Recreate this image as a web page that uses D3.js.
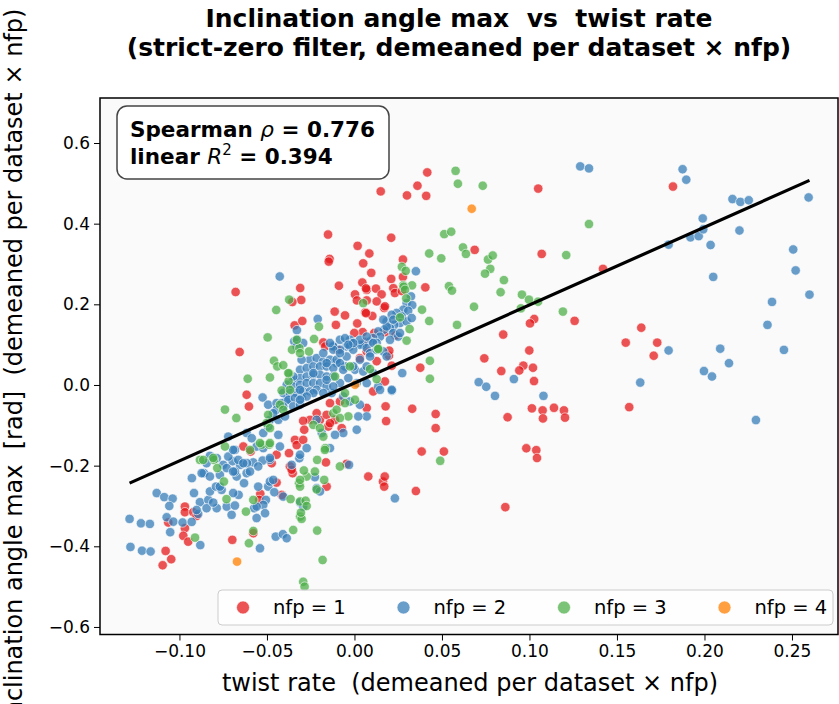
<!DOCTYPE html>
<html>
<head>
<meta charset="utf-8">
<script src="https://cdn.jsdelivr.net/npm/d3@7"></script>
<style>
  body { margin: 0; background: #fff; }
  text { font-family: "DejaVu Sans", sans-serif; white-space: pre; }
</style>
</head>
<body>
<svg id="chart"></svg>
<script>
// points per nfp group (x = twist rate, y = inclination angle max)
var nfp1X = [0.0416,0.036,0.030,0.041,0.015,0.105,0.182,0.021,0.0687,0.107,0.0277,0.021,0.0277,0.0405,0.0222,0.142,
  0.1258,0.1639,0.155,0.173,0.171,0.1027,0.1003,0.085,0.0999,0.0742,0.0965,0.0942,0.102,0.1026,0.0839,0.0376,0.157,0.033,0.0464,0.0464,0.0875,0.1014,0.1075,0.1077,0.114,0.1197,0.1203,0.0384,0.0511,0.0982,0.1039,0.1043,0.0178,0.0181,0.0174,0.0197,0.0213,0.017,
  0.0163,0.0173,0.017,0.0351,0.0862,
  -0.0151,0.0018,0.0085,0.005,0.0096,-0.0142,-0.0147,-0.031,-0.0089,0.0045,0.007,0.0123,-0.0679,
  -0.0304,-0.0355,-0.0342,-0.0298,-0.0113,-0.0106,-0.0178,
  0.0066,0.0155,0.007,0.0127,0.0003,0.0014,0.0231,0.0102,0.0062,-0.0054,0.0016,0.0047,-0.0001,0.0113,0.0062,0.0271,
  -0.0656,-0.0616,-0.0603,0.0066,0.0174,-0.0167,0.007,0.0176,0.0127,0.0235,0.0199,
  -0.0969,-0.0969,-0.0921,-0.0902,-0.1064,-0.0969,-0.0978,-0.095,-0.1079,-0.1047,-0.1096,-0.0698,-0.0578,-0.0445,-0.0374,-0.0473,-0.0416,-0.0538,-0.0544,-0.0445,-0.0359,-0.0353,-0.0045,0.0079,
  -0.0635,-0.0593,-0.034,-0.033,-0.0293,-0.0254,-0.0293,-0.0287,-0.0197,-0.0159,-0.015,-0.0163,-0.0369,-0.0359,-0.0159,-0.0216,-0.014,-0.0096,
  0.0031,0.0107,0.007,-0.0083,-0.0073,-0.0111,-0.014];
var nfp1Y = [0.527,0.494,0.470,0.469,0.480,0.487,0.492,0.365,0.335,0.325,0.311,0.263,0.268,0.242,0.240,0.288,
  0.159,0.142,0.105,0.105,0.0725,0.1636,0.1527,0.125,0.0856,0.066,0.048,0.036,0.0427,0.0097,0.0345,0.0427,-0.055,-0.059,-0.072,-0.107,-0.080,-0.058,-0.063,-0.083,-0.0566,-0.063,-0.081,-0.165,-0.165,-0.157,-0.1616,-0.181,-0.053,-0.0896,0.0087,0.0725,0.0477,0.191,
  -0.2395,-0.227,-0.252,-0.263,-0.303,
  0.373,0.345,0.326,0.3016,0.278,0.3125,0.306,0.2405,0.246,0.254,0.236,0.239,0.2306,
  0.2107,0.2058,0.1477,0.1586,0.182,0.149,0.1055,
  0.2395,0.2246,0.2097,0.2072,0.2246,0.2097,0.228,0.171,0.18,0.1725,0.1526,0.131,0.1288,0.1288,0.1065,0.233,
  0.0817,-0.0243,-0.0534,0.178,0.195,0.0956,0.083,0.131,0.059,0.123,0.085,
  -0.3015,-0.3155,-0.3155,-0.3247,-0.341,-0.355,-0.374,-0.3885,-0.4115,-0.432,-0.447,-0.384,-0.3676,-0.173,-0.169,-0.194,-0.2725,-0.27,-0.285,-0.242,-0.206,-0.2187,-0.1956,-0.227,
  -0.1526,-0.165,-0.136,-0.149,-0.136,-0.0864,-0.089,-0.111,-0.0864,-0.074,-0.103,-0.192,-0.202,-0.21,-0.252,-0.07,-0.045,0.0874,
  0.0667,-0.016,-0.057,-0.041,-0.107,-0.0864,-0.0946];

var nfp2X = [0.129,0.134,0.1875,0.1896,0.216,0.2205,0.2253,0.2595,0.199,0.220,0.192,0.1967,0.1993,0.1795,0.2035,0.2507,0.2521,0.205,0.260,0.0351,
  0.2386,0.236,0.2454,0.209,0.214,0.1997,0.2043,0.1795,0.1633,0.2294,0.071,0.0753,0.0803,0.0911,0.108,0.0273,0.0214,
  0.0231,-0.0427,-0.021,-0.0329,-0.0344,-0.0327,-0.0125,
  0.0323,0.0298,0.033,0.0279,0.0307,0.0241,0.027,0.0213,0.026,0.0227,0.0184,0.0203,0.0169,0.0136,0.0146,0.0107,0.0089,0.005,-0.0026,-0.0007,-0.0045,-0.0121,0.0222,0.025,0.0298,0.0327,
  -0.0525,
  -0.1285,-0.122,-0.1169,-0.128,-0.1214,-0.1165,-0.113,-0.1087,-0.1039,-0.1058,-0.1073,-0.1035,-0.0982,-0.1053,
  -0.0929,-0.086,-0.0917,-0.0883,-0.0835,-0.0826,-0.0791,-0.0759,-0.0787,-0.0845,-0.0893,-0.0902,-0.073,-0.0683,-0.0702,-0.0662,-0.0631,-0.0673,-0.0616,-0.0578,-0.0696,-0.0654,-0.075,-0.0721,-0.0683,-0.0664,-0.0614,-0.0683,-0.0769,-0.0826,-0.0845,-0.0787,
  -0.0573,-0.0559,-0.054,-0.0881,-0.093,-0.0493,-0.0483,-0.0458,-0.0506,-0.0521,-0.045,-0.0409,-0.0387,-0.0311,-0.0315,-0.0311,-0.0273,-0.0359,-0.0464,-0.0216,-0.0197,-0.0483,-0.0525,-0.0226,
  -0.0873,-0.0826,-0.073,-0.0693,-0.0721,-0.0616,-0.0587,-0.0559,-0.0521,-0.0493,-0.0483,-0.0435,-0.0426,-0.0521,-0.0483,-0.055,-0.0597,-0.0693,-0.0635,-0.0769,-0.0807,-0.0693,-0.055,-0.0407,-0.0293,-0.0559,-0.0511,-0.0493,-0.0445,-0.0387,
  -0.0083,-0.0026,0.0031,0.007,0.0127,0.0165,0.0184,0.0089,-0.0102,-0.0054,0.0003,0.005,0.0107,-0.0083,-0.0035,0.0013,0.007,0.0136,0.0213,-0.013,-0.0064,-0.0026,0.0031,0.007,0.0013,-0.0064,-0.0111,-0.014,-0.0031,0.0146,
  -0.0254,-0.0216,-0.0178,-0.014,-0.0102,-0.0311,-0.0273,-0.0235,-0.0197,-0.0159,-0.0121,-0.035,-0.0311,-0.0273,-0.0235,-0.0197,-0.0159,-0.0121,-0.0387,-0.035,-0.0311,-0.0273,-0.0235,-0.0197,-0.0159,-0.0121,-0.0407,-0.0369,-0.033,-0.0293,-0.0254,-0.0216,-0.0178,-0.0416,-0.0378,-0.034,-0.0302,-0.0445,-0.0407,-0.035,-0.0311,-0.0435,-0.0397,-0.0121,-0.014,-0.0293,
  -0.0311,-0.0235,-0.0159,-0.0083,-0.0045,-0.0007,0.0031,0.007,0.0107,0.0184,0.0222,0.0165,0.0203,0.026,0.0031,0.007,-0.0007,-0.0064,-0.0159,-0.0235,-0.0273,-0.035,-0.0178,-0.0083,-0.0007,0.0089,0.0127,-0.0302,-0.033,-0.0083,-0.0054,-0.0035,-0.0464,-0.0311,0.0022,-0.0216,-0.0187];
var nfp2Y = [0.542,0.537,0.535,0.509,0.461,0.454,0.458,0.465,0.413,0.383,0.366,0.369,0.386,0.348,0.347,0.336,0.284,0.268,0.224,0.282,
  0.206,0.149,0.087,0.090,0.054,0.0345,0.021,0.0856,0.006,-0.087,0.007,-0.0045,-0.027,0.0146,-0.027,0.0295,-0.0144,
  -0.281,0.269,0.1636,0.136,0.108,0.112,0.0973,
  0.2197,0.203,0.198,0.1866,0.184,0.1785,0.17,0.174,0.1536,0.149,0.1576,0.141,0.137,0.1328,0.120,0.1164,0.108,0.0998,0.1122,0.104,0.0956,0.0956,0.1288,0.120,0.1576,0.166,
  -0.031,
  -0.332,-0.343,-0.3445,-0.4016,-0.411,-0.413,-0.268,-0.278,-0.2817,-0.30,-0.328,-0.339,-0.341,-0.365,
  -0.231,-0.2187,-0.268,-0.2906,-0.285,-0.264,-0.252,-0.26,-0.3055,-0.3055,-0.3197,-0.31,-0.3015,-0.299,-0.322,-0.2725,-0.2435,-0.227,-0.2187,-0.192,-0.189,-0.198,-0.198,-0.1775,-0.161,-0.1857,-0.194,-0.2147,-0.223,-0.1757,-0.194,-0.1815,
  -0.3055,-0.33,-0.405,-0.397,-0.3395,-0.252,-0.2395,-0.266,-0.285,-0.2973,-0.376,-0.37,-0.38,-0.2916,-0.1815,-0.173,-0.1566,-0.198,-0.2353,-0.256,-0.264,-0.1857,-0.1874,-0.2286,
  -0.2187,-0.227,-0.206,-0.161,-0.128,-0.119,-0.132,-0.1526,-0.119,-0.103,-0.0864,-0.1236,-0.1526,-0.1566,-0.181,-0.202,-0.2147,-0.2147,-0.194,-0.252,-0.2916,-0.268,-0.252,-0.2767,-0.3015,-0.3015,-0.318,-0.049,-0.045,-0.0367,
  0.0874,0.0956,0.0998,0.0916,0.104,0.083,0.0707,0.079,0.0543,0.046,0.0377,0.0335,0.0295,0.0047,0.0171,0.0047,0.0047,-0.0037,-0.012,-0.02,-0.0285,-0.041,-0.049,-0.078,-0.111,-0.119,-0.1236,-0.1566,-0.198,-0.012,
  0.0626,0.0667,0.0583,0.0626,0.0626,0.0377,0.042,0.046,0.046,0.046,0.042,0.0129,0.0171,0.021,0.0253,0.0253,0.021,0.021,0.0005,-0.0037,0.0005,0.0047,0.0047,0.0047,-0.0037,-0.0037,-0.02,-0.02,-0.02,-0.016,-0.016,-0.012,-0.02,-0.045,-0.0367,-0.0325,-0.0325,-0.0615,-0.053,-0.053,-0.049,-0.0864,-0.078,0.0874,0.104,0.104,
  -0.012,0.0295,0.0543,0.0543,0.0707,0.0874,0.112,0.120,0.104,0.145,0.162,0.162,0.112,0.1288,0.0626,0.046,0.046,0.0377,0.0129,-0.02,-0.0285,0.021,0.079,0.079,0.104,0.0707,0.0874,0.0626,0.0956,0.112,0.116,0.0998,-0.07,-0.0367,-0.078,-0.0864,-0.119];

var nfp3X = [0.0578,0.0591,0.0733,0.134,0.0513,0.0553,0.062,0.0637,0.0427,0.0496,0.0763,0.079,0.0776,0.0746,0.0854,0.121,0.0271,0.0293,0.0329,0.0279,0.054,0.0557,0.0835,0.0957,
  0.1191,0.0683,0.0586,0.0427,0.0386,0.0997,0.1049,0.0951,0.0431,0.0431,0.0298,0.049,
  -0.0373,-0.0447,-0.0203,-0.0496,-0.0231,
  0.0281,0.0289,0.005,0.0296,0.0315,0.026,0.0134,
  -0.074,-0.0675,-0.061,-0.0483,-0.046,-0.0441,-0.0407,-0.0357,-0.0315,-0.026,-0.0311,-0.033,-0.0373,-0.0376,
  -0.0883,-0.0864,-0.0803,-0.0784,-0.0746,-0.0731,-0.0911,-0.062,-0.0578,-0.0603,-0.0578,-0.0365,-0.0311,-0.0279,-0.0273,-0.0311,-0.0302,-0.0306,-0.035,-0.0213,-0.0182,-0.0293,-0.0285,-0.0213,-0.0167,-0.0083,-0.0317,-0.0311,-0.0273,-0.0289,-0.0216,-0.0173,-0.053,-0.0487,
  -0.0416,-0.0378,-0.0369,-0.0426,-0.0407,-0.0493,-0.0502,-0.0483,-0.0483,-0.054,-0.0597,-0.074,-0.0807,-0.0311,-0.0226,-0.0169,-0.0235,-0.0197,-0.0178,-0.0121,-0.0102,
  0.0136,0.0089,0.0127,-0.0111,-0.0026,-0.0054,0.0003,-0.0054,-0.0035,-0.0083];
var nfp3Y = [0.531,0.499,0.494,0.399,0.374,0.380,0.341,0.325,0.326,0.314,0.311,0.321,0.288,0.276,0.260,0.322,0.293,0.283,0.247,0.247,0.245,0.234,0.230,0.224,
  0.182,0.194,0.149,0.1586,0.1866,0.2115,0.2065,0.190,0.060,0.0154,0.110,-0.188,
  0.2115,0.186,0.1445,0.118,0.114,
  0.2437,0.236,0.203,0.2147,0.1387,0.1675,0.0906,
  -0.061,-0.082,0.0154,0.0186,0.060,0.046,0.049,0.0874,0.0915,0.083,0.079,0.112,0.028,0.0097,
  -0.1857,-0.1857,-0.1857,-0.206,-0.2395,-0.283,-0.3785,-0.314,-0.285,-0.3925,-0.362,-0.283,-0.289,-0.287,-0.30,-0.3265,-0.332,-0.3165,-0.3595,-0.361,-0.434,-0.488,-0.50,-0.1857,-0.1566,-0.202,-0.2435,-0.252,-0.227,-0.212,-0.259,-0.2353,-0.148,-0.148,
  -0.0136,0.0295,-0.012,-0.049,-0.0615,-0.074,-0.0946,-0.107,-0.144,-0.144,-0.161,-0.1526,-0.181,-0.2353,-0.2147,-0.161,-0.099,-0.107,-0.128,-0.07,-0.0615,
  0.089,0.0395,0.0146,0.021,0.046,-0.02,-0.0367,-0.045,-0.078,-0.082];

var nfp4X = [0.067,0.0003,-0.0671];
var nfp4Y = [0.437,0.0005,-0.438];

var groupNames = ["nfp = 1", "nfp = 2", "nfp = 3", "nfp = 4"];
var groupColors = ["#e41a1c", "#377eb8", "#4daf4a", "#ff7f00"];
var xTicks = [-0.10, -0.05, 0.00, 0.05, 0.10, 0.15, 0.20, 0.25];
var yTicks = [-0.6, -0.4, -0.2, 0.0, 0.2, 0.4, 0.6];

// least squares fit as drawn on the reference
var fitSlope = 1.932;
var fitIntercept = 0.005;
var spearmanRho = "0.776";
var linearR2 = "0.394";

var W = 839, H = 704;
var margin = { top: 98, right: 1, bottom: 70, left: 100 },
  width = W - margin.left - margin.right,
  height = 634.5 - margin.top;

var svg = d3.select("#chart")
  .attr("width", W)
  .attr("height", H);

var x = d3.scaleLinear().domain([-0.1454, 0.2763]).range([0, width]);
var y = d3.scaleLinear().domain([-0.6187, 0.7116]).range([height, 0]);

var g = svg.append("g")
  .attr("transform", "translate(" + margin.left + "," + margin.top + ")");

g.append("rect")
  .attr("width", width)
  .attr("height", height)
  .attr("fill", "#fafafa");

// build point list, one group after another
var groups = [[nfp1X, nfp1Y], [nfp2X, nfp2Y], [nfp3X, nfp3Y], [nfp4X, nfp4Y]];
var points = [];
groups.forEach(function(gr, k) {
  gr[0].forEach(function(v, i) {
    points.push({ x: v, y: gr[1][i], k: k });
  });
});

g.append("g").selectAll("circle")
  .data(points).enter()
  .append("circle")
    .attr("cx", function(d) { return x(d.x); })
    .attr("cy", function(d) { return y(d.y); })
    .attr("r", 4.7)
    .attr("fill", function(d) { return groupColors[d.k]; })
    .attr("fill-opacity", 0.75)
    .attr("stroke", "#fff")
    .attr("stroke-width", 0.6);

// regression line over the x extent of the data
var xExt = d3.extent(points, function(d) { return d.x; });
g.append("line")
  .attr("x1", x(xExt[0]))
  .attr("y1", y(fitIntercept + fitSlope * xExt[0]))
  .attr("x2", x(xExt[1]))
  .attr("y2", y(fitIntercept + fitSlope * xExt[1]))
  .attr("stroke", "#000")
  .attr("stroke-width", 3.2);

// axes
var xAxis = g.append("g")
  .attr("transform", "translate(0," + height + ")")
  .call(d3.axisBottom(x).tickValues(xTicks).tickFormat(d3.format(".2f")).tickSize(6).tickPadding(4));
var yAxis = g.append("g")
  .call(d3.axisLeft(y).tickValues(yTicks).tickFormat(d3.format(".1f")).tickSize(6).tickPadding(4));
[xAxis, yAxis].forEach(function(a) {
  a.select(".domain").remove();
  a.selectAll("text").attr("font-size", 17).attr("font-family", "DejaVu Sans").attr("fill", "#000");
  a.selectAll("line").attr("stroke", "#000").attr("stroke-width", 1);
});

g.append("rect")
  .attr("width", width)
  .attr("height", height)
  .attr("fill", "none")
  .attr("stroke", "#000")
  .attr("stroke-width", 1.5);

// stats box
var stats = g.append("g").attr("transform", "translate(17,8)");
stats.append("rect")
  .attr("width", 272)
  .attr("height", 73)
  .attr("rx", 10)
  .attr("fill", "#fff")
  .attr("stroke", "#444")
  .attr("stroke-width", 1.5);
var t1 = stats.append("text").attr("x", 13).attr("y", 31).attr("font-size", 21.5).attr("font-weight", "bold");
t1.append("tspan").text("Spearman ");
t1.append("tspan").attr("font-style", "italic").attr("font-weight", "normal").text("ρ");
t1.append("tspan").text(" = " + spearmanRho);
var t2 = stats.append("text").attr("x", 13).attr("y", 58).attr("font-size", 21.5).attr("font-weight", "bold");
t2.append("tspan").text("linear ");
t2.append("tspan").attr("font-style", "italic").attr("font-weight", "normal").text("R");
t2.append("tspan").attr("font-weight", "normal").attr("font-size", 15).attr("dy", -9).text("2");
t2.append("tspan").attr("dy", 9).text(" = " + linearR2);

// legend
var legend = g.append("g").attr("transform", "translate(118,492)");
legend.append("rect")
  .attr("width", 615)
  .attr("height", 35)
  .attr("rx", 4)
  .attr("fill", "#fff")
  .attr("fill-opacity", 0.8)
  .attr("stroke", "#ccc")
  .attr("stroke-width", 1);
var items = legend.selectAll(".item")
  .data(groupNames).enter()
  .append("g")
    .attr("class", "item")
    .attr("transform", function(d, i) { return "translate(" + (25 + i * 160.5) + ",17.5)"; });
items.append("circle")
  .attr("r", 6.5)
  .attr("fill", function(d, i) { return groupColors[i]; })
  .attr("fill-opacity", 0.75)
  .attr("stroke", "#fff")
  .attr("stroke-width", 0.6);
items.append("text")
  .attr("x", 30)
  .attr("dy", "0.35em")
  .attr("font-size", 19.5)
  .text(function(d) { return d; });

// titles and labels
svg.append("text")
  .attr("x", 459).attr("y", 27)
  .attr("text-anchor", "middle")
  .attr("font-size", 25).attr("font-weight", "bold")
  .text("Inclination angle max  vs  twist rate");
svg.append("text")
  .attr("x", 459).attr("y", 56)
  .attr("text-anchor", "middle")
  .attr("font-size", 25).attr("font-weight", "bold")
  .text("(strict-zero filter, demeaned per dataset × nfp)");
svg.append("text")
  .attr("x", 470).attr("y", 691)
  .attr("text-anchor", "middle")
  .attr("font-size", 24)
  .text("twist rate  (demeaned per dataset × nfp)");
svg.append("text")
  .attr("transform", "translate(22,366) rotate(-90)")
  .attr("text-anchor", "middle")
  .attr("font-size", 24)
  .text("Inclination angle max  [rad]  (demeaned per dataset × nfp)");
</script>
</body>
</html>
